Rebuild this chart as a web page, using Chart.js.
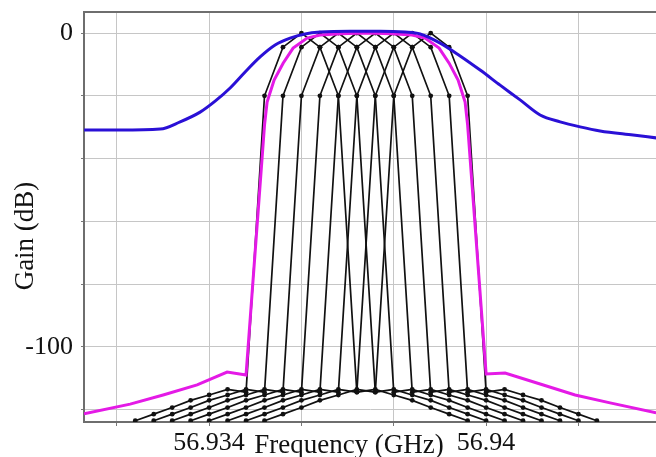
<!DOCTYPE html>
<html>
<head>
<meta charset="utf-8">
<script src="https://cdn.jsdelivr.net/npm/chart.js@4/dist/chart.umd.min.js"></script>
<style>
  body { margin: 0; background: #fff; }
  canvas { display: block; }
</style>
</head>
<body>
<canvas id="myChart" width="656" height="457"></canvas>
<script>
// wide (blue) response
var wideFreq = [56.931292, 56.932072, 56.932939, 56.933372, 56.933805, 56.93413, 56.934455, 56.93478,
  56.935105, 56.93543, 56.935754, 56.936079, 56.936404, 56.937054, 56.937704, 56.938245, 56.93857,
  56.939004, 56.939437, 56.93987, 56.940303, 56.940736, 56.94117, 56.941603, 56.942036, 56.942469,
  56.943184, 56.943682];
var wideGain = [-30.9, -30.9, -30.6, -28.3, -25.2, -21.7, -17.5, -12.4,
  -7.6, -3.8, -1.6, -0.3, 0.3, 0.6, 0.6, 0.3, -0.3,
  -3.2, -7.3, -11.8, -16.6, -21.3, -26.1, -28.3, -29.9, -31.2,
  -32.5, -33.4];

// envelope (magenta)
var envFreq = [56.931292, 56.932289, 56.933004, 56.93374, 56.93439, 56.9348, 56.9352, 56.935256,
  56.935408, 56.935603, 56.935819, 56.936123, 56.936404, 56.936838, 56.937401, 56.937964, 56.938397,
  56.938679, 56.938982, 56.939199, 56.939393, 56.939545, 56.9396, 56.94, 56.940411, 56.94117,
  56.941928, 56.942686, 56.943682];
var envGain = [-121.3, -118.2, -115.3, -112.1, -108.0, -108.9, -29.3, -22.0,
  -15.0, -9.6, -4.8, -1.6, -0.6, -0.2, 0, -0.2, -0.6,
  -1.6, -4.8, -9.6, -15.0, -22.0, -29.3, -108.6, -108.3, -111.8,
  -115.3, -117.8, -121.0];

// channel filter bank (black), sampled every 0.4 MHz
var bankFreq = [56.9324, 56.9328, 56.9332, 56.9336, 56.934, 56.9344, 56.9348, 56.9352, 56.9356,
  56.936, 56.9364, 56.9368, 56.9372, 56.9376, 56.938, 56.9384, 56.9388, 56.9392, 56.9396,
  56.94, 56.9404, 56.9408, 56.9412, 56.9416, 56.942, 56.9424];
var channelGain = [-123.5, -121.4, -119.3, -117.0, -115.3, -113.5, -114.4, -20, -4.5, 0,
  -4.5, -20, -114.4, -113.5, -115.3, -117.0, -119.3, -121.4, -123.5];
var channelStart = [0, 1, 2, 3, 4, 5, 6, 7];

var xTicks = [56.932, 56.934, 56.936, 56.938, 56.94, 56.942];
var xTickLabels = ['', '56.934', '', '', '56.94', ''];
var yTicks = [-120, -100, -80, -60, -40, -20, 0];
var yTickLabels = ['', '-100', '', '', '', '', '0'];

var serif = 'Liberation Serif';

var datasets = [
  {
    label: 'wide',
    data: wideFreq.map(function (f, i) { return {x: f, y: wideGain[i]}; }),
    borderColor: '#2a10d6',
    borderWidth: 3,
    pointRadius: 0,
    cubicInterpolationMode: 'monotone'
  },
  {
    label: 'envelope',
    data: envFreq.map(function (f, i) { return {x: f, y: envGain[i]}; }),
    borderColor: '#e41ae6',
    borderWidth: 3,
    pointRadius: 0,
    tension: 0
  }
];
channelStart.forEach(function (s, k) {
  datasets.push({
    label: 'ch' + (k + 1),
    data: channelGain.map(function (g, i) { return {x: bankFreq[s + i], y: g}; }),
    borderColor: '#111',
    backgroundColor: '#111',
    borderWidth: 1.7,
    pointRadius: 2.4,
    pointBorderWidth: 0,
    tension: 0
  });
});

const frame = {
  id: 'frame',
  afterDraw(chart) {
    const {ctx, chartArea: {top, left, right}} = chart;
    ctx.save();
    ctx.strokeStyle = '#6e6e6e';
    ctx.lineWidth = 2;
    ctx.beginPath();
    ctx.moveTo(left, top);
    ctx.lineTo(right, top);
    ctx.stroke();
    ctx.fillStyle = '#111';
    ctx.font = '27px "' + serif + '"';
    ctx.textAlign = 'center';
    ctx.textBaseline = 'alphabetic';
    ctx.fillText('Frequency (GHz)', 349, 453);
    ctx.translate(33, 236);
    ctx.rotate(-Math.PI / 2);
    ctx.fillText('Gain (dB)', 0, 0);
    ctx.restore();
  }
};

var ctx = document.getElementById('myChart').getContext('2d');
var myChart = new Chart(ctx, {
  type: 'line',
  data: {datasets: datasets},
  plugins: [frame],
  options: {
    responsive: false,
    animation: false,
    layout: {autoPadding: false, padding: {top: 12, left: 0, right: 0, bottom: 0}},
    plugins: {legend: {display: false}, tooltip: {enabled: false}},
    scales: {
      x: {
        type: 'linear',
        min: 56.93129,
        max: 56.94368,
        afterBuildTicks: function (scale) { scale.ticks = xTicks.map(function (v) { return {value: v}; }); },
        afterFit: function (scale) {
          scale.height = 35;
          scale.paddingLeft = 0;
          scale.paddingRight = 0;
        },
        ticks: {
          autoSkip: false,
          maxRotation: 0,
          padding: 2,
          color: '#111',
          font: {family: serif, size: 26},
          callback: function (v, i) { return xTickLabels[i]; }
        },
        grid: {color: '#c6c6c6', lineWidth: 1, tickLength: 4, tickColor: '#777'},
        border: {color: '#6e6e6e', width: 2}
      },
      y: {
        min: -123.9,
        max: 6.7,
        afterBuildTicks: function (scale) { scale.ticks = yTicks.map(function (v) { return {value: v}; }); },
        afterFit: function (scale) {
          scale.width = 84;
          scale.paddingTop = 0;
          scale.paddingBottom = 0;
        },
        ticks: {
          autoSkip: false,
          padding: 8,
          color: '#111',
          font: {family: serif, size: 26},
          callback: function (v, i) { return yTickLabels[i]; }
        },
        grid: {color: '#c6c6c6', lineWidth: 1, tickLength: 3, tickColor: '#777'},
        border: {color: '#6e6e6e', width: 2}
      }
    }
  }
});
</script>
</body>
</html>
